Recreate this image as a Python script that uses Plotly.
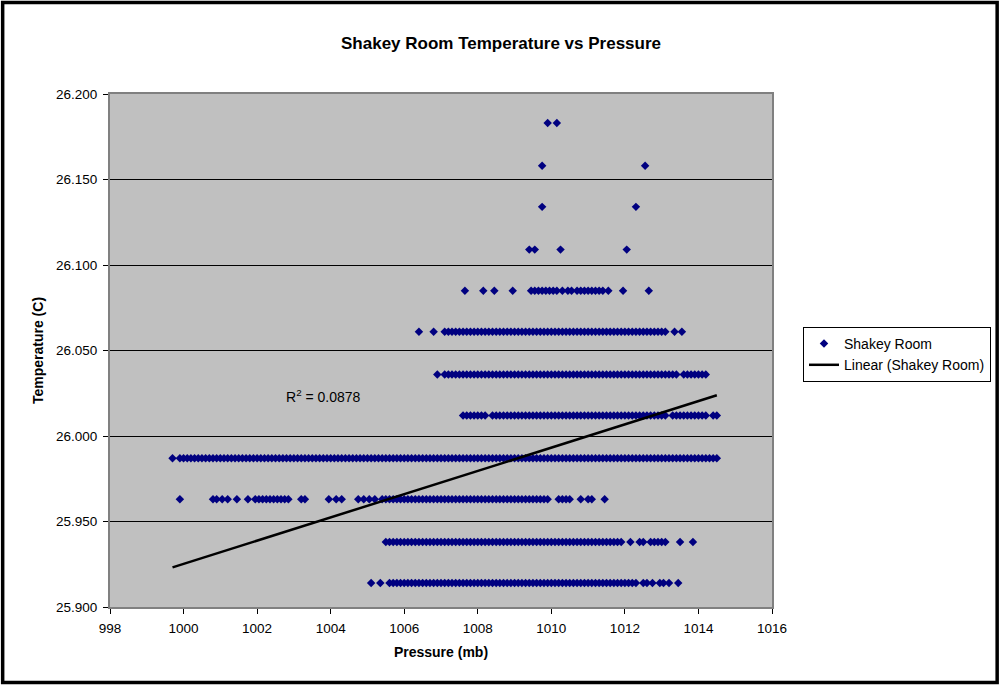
import plotly.graph_objects as go

# Temperature levels (C) reported by the sensor
temp_levels = [25.914, 25.938, 25.963, 25.987, 26.012, 26.036,
               26.061, 26.085, 26.109, 26.134, 26.158, 26.183]

# Pressure readings (mb) logged at each temperature level
p_25914 = [1005.1, 1005.35,
           1005.6, 1005.7, 1005.8, 1005.9,
           1006.0, 1006.1, 1006.2, 1006.3, 1006.4, 1006.5, 1006.6, 1006.7, 1006.8, 1006.9,
           1007.0, 1007.1, 1007.2, 1007.3, 1007.4, 1007.5, 1007.6, 1007.7, 1007.8, 1007.9,
           1008.0, 1008.1, 1008.2, 1008.3, 1008.4, 1008.5, 1008.6, 1008.7, 1008.8, 1008.9,
           1009.0, 1009.1, 1009.2, 1009.3, 1009.4, 1009.5, 1009.6, 1009.7, 1009.8, 1009.9,
           1010.0, 1010.1, 1010.2, 1010.3, 1010.4, 1010.5, 1010.6, 1010.7, 1010.8, 1010.9,
           1011.0, 1011.1, 1011.2, 1011.3, 1011.4, 1011.5, 1011.6, 1011.7, 1011.8, 1011.9,
           1012.0, 1012.1, 1012.2, 1012.3,
           1012.5, 1012.6, 1012.75, 1012.95, 1013.05, 1013.2, 1013.45]

p_25938 = [1005.5, 1005.6, 1005.7, 1005.8, 1005.9,
           1006.0, 1006.1, 1006.2, 1006.3, 1006.4, 1006.5, 1006.6, 1006.7, 1006.8, 1006.9,
           1007.0, 1007.1, 1007.2, 1007.3, 1007.4, 1007.5, 1007.6, 1007.7, 1007.8, 1007.9,
           1008.0, 1008.1, 1008.2, 1008.3, 1008.4, 1008.5, 1008.6, 1008.7, 1008.8, 1008.9,
           1009.0, 1009.1, 1009.2, 1009.3, 1009.4, 1009.5, 1009.6, 1009.7, 1009.8, 1009.9,
           1010.0, 1010.1, 1010.2, 1010.3, 1010.4, 1010.5, 1010.6, 1010.7, 1010.8, 1010.9,
           1011.0, 1011.1, 1011.2, 1011.3, 1011.4, 1011.5, 1011.6, 1011.7, 1011.8, 1011.9,
           1012.15, 1012.4, 1012.5, 1012.7, 1012.8, 1012.9, 1013.0, 1013.1, 1013.5, 1013.85]

p_25963 = [999.9, 1000.8, 1000.9, 1001.05, 1001.2, 1001.45,
           1001.75, 1001.95, 1002.05, 1002.15, 1002.25, 1002.35, 1002.45, 1002.55,
           1002.65, 1002.75, 1002.85, 1003.2, 1003.3, 1003.95, 1004.15, 1004.3,
           1004.75, 1004.9, 1005.05, 1005.2,
           1005.4, 1005.5, 1005.6, 1005.7, 1005.8, 1005.9,
           1006.0, 1006.1, 1006.2, 1006.3, 1006.4, 1006.5, 1006.6, 1006.7, 1006.8, 1006.9,
           1007.0, 1007.1, 1007.2, 1007.3, 1007.4, 1007.5, 1007.6, 1007.7, 1007.8, 1007.9,
           1008.0, 1008.1, 1008.2, 1008.3, 1008.4, 1008.5, 1008.6, 1008.7, 1008.8, 1008.9,
           1009.0, 1009.1, 1009.2, 1009.3, 1009.4, 1009.5, 1009.6, 1009.7, 1009.8, 1009.9,
           1010.2, 1010.3, 1010.4, 1010.5, 1010.8, 1011.0, 1011.1, 1011.45]

p_25987 = [999.7, 999.9,
           1000.0, 1000.1, 1000.2, 1000.3, 1000.4, 1000.5, 1000.6, 1000.7, 1000.8, 1000.9,
           1001.0, 1001.1, 1001.2, 1001.3, 1001.4, 1001.5, 1001.6, 1001.7, 1001.8, 1001.9,
           1002.0, 1002.1, 1002.2, 1002.3, 1002.4, 1002.5, 1002.6, 1002.7, 1002.8, 1002.9,
           1003.0, 1003.1, 1003.2, 1003.3, 1003.4, 1003.5, 1003.6, 1003.7, 1003.8, 1003.9,
           1004.0, 1004.1, 1004.2, 1004.3, 1004.4, 1004.5, 1004.6, 1004.7, 1004.8, 1004.9,
           1005.0, 1005.1, 1005.2, 1005.3, 1005.4, 1005.5, 1005.6, 1005.7, 1005.8, 1005.9,
           1006.0, 1006.1, 1006.2, 1006.3, 1006.4, 1006.5, 1006.6, 1006.7, 1006.8, 1006.9,
           1007.0, 1007.1, 1007.2, 1007.3, 1007.4, 1007.5, 1007.6, 1007.7, 1007.8, 1007.9,
           1008.0, 1008.1, 1008.2, 1008.3, 1008.4, 1008.5, 1008.6, 1008.7, 1008.8, 1008.9,
           1009.0, 1009.1, 1009.2, 1009.3, 1009.4, 1009.5, 1009.6, 1009.7, 1009.8, 1009.9,
           1010.0, 1010.1, 1010.2, 1010.3, 1010.4, 1010.5, 1010.6, 1010.7, 1010.8, 1010.9,
           1011.0, 1011.1, 1011.2, 1011.3, 1011.4, 1011.5, 1011.6, 1011.7, 1011.8, 1011.9,
           1012.0, 1012.1, 1012.2, 1012.3, 1012.4, 1012.5, 1012.6, 1012.7, 1012.8, 1012.9,
           1013.0, 1013.1, 1013.2, 1013.3, 1013.4, 1013.5, 1013.6, 1013.7, 1013.8, 1013.9,
           1014.0, 1014.1, 1014.2, 1014.3, 1014.4, 1014.5]

p_26012 = [1007.6, 1007.7, 1007.8, 1007.9, 1008.0, 1008.1, 1008.2,
           1008.4, 1008.5, 1008.6, 1008.7, 1008.8, 1008.9,
           1009.0, 1009.1, 1009.2, 1009.3, 1009.4, 1009.5, 1009.6, 1009.7, 1009.8, 1009.9,
           1010.0, 1010.1, 1010.2, 1010.3, 1010.4, 1010.5, 1010.6, 1010.7, 1010.8, 1010.9,
           1011.0, 1011.1, 1011.2, 1011.3, 1011.4, 1011.5, 1011.6, 1011.7, 1011.8, 1011.9,
           1012.0, 1012.1, 1012.2, 1012.3, 1012.4, 1012.5, 1012.6, 1012.7, 1012.8, 1012.9,
           1013.0, 1013.1,
           1013.3, 1013.4, 1013.5, 1013.6, 1013.7, 1013.8, 1013.9, 1014.0, 1014.1, 1014.2,
           1014.4, 1014.5]

p_26036 = [1006.9,
           1007.1, 1007.2, 1007.3, 1007.4, 1007.5, 1007.6, 1007.7, 1007.8, 1007.9,
           1008.0, 1008.1, 1008.2, 1008.3, 1008.4, 1008.5, 1008.6, 1008.7, 1008.8, 1008.9,
           1009.0, 1009.1, 1009.2, 1009.3, 1009.4, 1009.5, 1009.6, 1009.7, 1009.8, 1009.9,
           1010.0, 1010.1, 1010.2, 1010.3, 1010.4, 1010.5, 1010.6, 1010.7, 1010.8, 1010.9,
           1011.0, 1011.1, 1011.2, 1011.3, 1011.4, 1011.5, 1011.6, 1011.7, 1011.8, 1011.9,
           1012.0, 1012.1, 1012.2, 1012.3, 1012.4, 1012.5, 1012.6, 1012.7, 1012.8, 1012.9,
           1013.0, 1013.1, 1013.2, 1013.3, 1013.4,
           1013.6, 1013.7, 1013.8, 1013.9, 1014.0, 1014.1, 1014.2]

p_26061 = [1006.4, 1006.8,
           1007.1, 1007.2, 1007.3, 1007.4, 1007.5, 1007.6, 1007.7, 1007.8, 1007.9,
           1008.0, 1008.1, 1008.2, 1008.3, 1008.4, 1008.5, 1008.6, 1008.7, 1008.8, 1008.9,
           1009.0, 1009.1, 1009.2, 1009.3, 1009.4, 1009.5, 1009.6, 1009.7, 1009.8, 1009.9,
           1010.0, 1010.1, 1010.2, 1010.3, 1010.4, 1010.5, 1010.6, 1010.7, 1010.8, 1010.9,
           1011.0, 1011.1, 1011.2, 1011.3, 1011.4, 1011.5, 1011.6, 1011.7, 1011.8, 1011.9,
           1012.0, 1012.1, 1012.2, 1012.3, 1012.4, 1012.5, 1012.6, 1012.7, 1012.8, 1012.9,
           1013.0, 1013.1, 1013.35, 1013.55]

p_26085 = [1007.65, 1008.15, 1008.45, 1008.95,
           1009.45, 1009.55, 1009.65, 1009.75, 1009.85, 1009.95,
           1010.05, 1010.15, 1010.3, 1010.45, 1010.55, 1010.7,
           1010.8, 1010.9, 1011.0, 1011.1, 1011.2, 1011.3, 1011.4,
           1011.55, 1011.95, 1012.65]

p_26109 = [1009.4, 1009.55, 1010.25, 1012.05]
p_26134 = [1009.75, 1012.3]
p_26158 = [1009.75, 1012.55]
p_26183 = [1009.9, 1010.15]

pressure_rows = [p_25914, p_25938, p_25963, p_25987, p_26012, p_26036,
                 p_26061, p_26085, p_26109, p_26134, p_26158, p_26183]

# Linear trendline fitted in the spreadsheet
trend_slope = 0.0068          # C per mb
trend_anchor_p = 1000.0       # mb
trend_anchor_t = 25.9252      # C at the anchor pressure
r_squared = 0.0878

x_vals, y_vals = [], []
for t, row in zip(temp_levels, pressure_rows):
    x_vals.extend(row)
    y_vals.extend([t] * len(row))

p_min, p_max = min(x_vals), max(x_vals)
trend_x = [p_min, p_max]
trend_y = [trend_anchor_t + trend_slope * (p - trend_anchor_p) for p in trend_x]

W, H = 1002, 685
ML, MR, MT, MB = 110, 229, 94, 78
FONT = "Arial, 'Liberation Sans', sans-serif"


def px_to_paper(x_px, y_px):
    pw, ph = W - ML - MR, H - MT - MB
    return (x_px - ML) / pw, (H - MB - y_px) / ph


fig = go.Figure()
fig.add_trace(go.Scatter(
    x=x_vals, y=y_vals, mode="markers", name="Shakey Room",
    marker=dict(symbol="diamond", size=6.5, color="#000080", line=dict(width=0)),
))
fig.add_trace(go.Scatter(
    x=trend_x, y=trend_y, mode="lines", name="Linear (Shakey Room)",
    line=dict(color="black", width=2.5),
))

fig.add_annotation(
    x=1003.8, y=26.0234, xref="x", yref="y", showarrow=False,
    text=f"R<sup>2</sup> = {r_squared}",
    font=dict(family=FONT, size=14, color="black"),
)

# Outer chart frame
fx0, fy0 = px_to_paper(2.5, 682.5)
fx1, fy1 = px_to_paper(998.5, 2.5)
fig.add_shape(type="rect", xref="paper", yref="paper",
              x0=fx0, y0=fy0, x1=fx1, y1=fy1,
              line=dict(color="black", width=3.5), fillcolor="rgba(0,0,0,0)", layer="above")

lx, ly = px_to_paper(803, 327)

fig.update_layout(
    width=W, height=H,
    margin=dict(l=ML, r=MR, t=MT, b=MB),
    paper_bgcolor="white",
    plot_bgcolor="#C0C0C0",
    font=dict(family=FONT, size=13, color="black"),
    title=dict(text="<b>Shakey Room Temperature vs Pressure</b>",
               x=0.5, xanchor="center", y=1 - 43 / H, yanchor="middle",
               font=dict(family=FONT, size=17, color="black")),
    showlegend=True,
    legend=dict(x=lx, y=ly, xanchor="left", yanchor="top",
                bgcolor="white", bordercolor="black", borderwidth=1,
                font=dict(family=FONT, size=14, color="black"),
                tracegroupgap=0, itemwidth=30),
    xaxis=dict(
        range=[998, 1016], dtick=2, tick0=998,
        showgrid=False, zeroline=False,
        showline=True, linecolor="#808080", linewidth=2, mirror=True,
        ticks="outside", ticklen=5, tickcolor="black", tickwidth=1,
        ticklabelstandoff=3,
        tickfont=dict(family=FONT, size=13.5, color="black"),
        title=dict(text="<b>Pressure (mb)</b>", standoff=12,
                   font=dict(family=FONT, size=14, color="black")),
    ),
    yaxis=dict(
        range=[25.9, 26.2], dtick=0.05, tick0=25.9, tickformat=".3f",
        showgrid=True, gridcolor="black", gridwidth=1, zeroline=False,
        showline=True, linecolor="#808080", linewidth=2, mirror=True,
        ticks="outside", ticklen=5, tickcolor="black", tickwidth=1,
        ticklabelstandoff=3,
        tickfont=dict(family=FONT, size=13.5, color="black"),
        title=dict(text="<b>Temperature (C)</b>", standoff=9,
                   font=dict(family=FONT, size=14, color="black")),
    ),
)

fig.write_html("out.html")
